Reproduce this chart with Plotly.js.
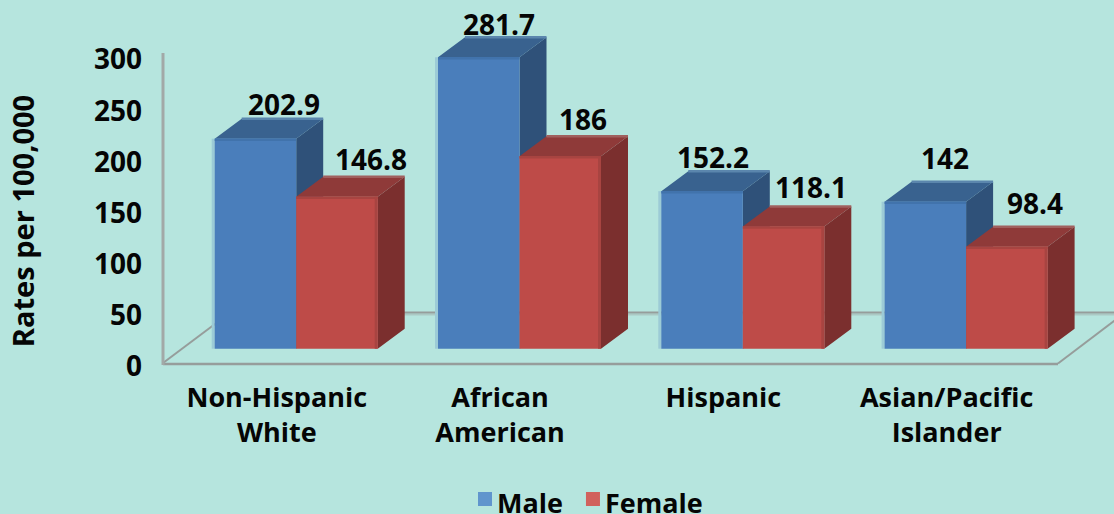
<!DOCTYPE html>
<html>
<head>
<meta charset="utf-8">
<script src="https://cdn.plot.ly/plotly-3.0.1.min.js"></script>
<style>html,body{margin:0;padding:0;background:#b6e5de;overflow:hidden}</style>
</head>
<body>
<div id="chart" style="width:1114px;height:514px"></div>
<script>
const categories = ['Non-Hispanic<br>White', 'African<br>American', 'Hispanic', 'Asian/Pacific<br>Islander'];
const maleValues = [202.9, 281.7, 152.2, 142];
const femaleValues = [146.8, 186, 118.1, 98.4];
const yTicks = [0, 50, 100, 150, 200, 250, 300];

const W = 1114, H = 514;
const BG = '#b6e5de', FONT = '"Open Sans", sans-serif', INK = '#050505';
const GROUP_PX = 223.3, FIRST_PX = 296.2;
const BAR_PX = 81.5, DEPTH_X_PX = 27, DEPTH_Y_PX = 20;
const BAR_SCALE = 1.035, AXIS_SCALE = 1.023;
const BASE_PY = 348.7, AXIS_ZERO_PY = 366.5, X_AXIS_PY = 364, DOM_TOP_PY = 0, DOM_BOT_PY = 442;

const groups = categories.map((_, i) => i);
const bw = BAR_PX / GROUP_PX, ddx = DEPTH_X_PX / GROUP_PX, ddy = DEPTH_Y_PX / BAR_SCALE;
const pxX = 1 / GROUP_PX, pxY = 1 / BAR_SCALE;
const valueRange = [(BASE_PY - DOM_BOT_PY) / BAR_SCALE, (BASE_PY - DOM_TOP_PY) / BAR_SCALE];
const axisRange = [(AXIS_ZERO_PY - DOM_BOT_PY) / AXIS_SCALE, (AXIS_ZERO_PY - DOM_TOP_PY) / AXIS_SCALE];
const domain = [1 - DOM_BOT_PY / H, 1 - DOM_TOP_PY / H];

function face(values, side, kind) {
  const xs = [], ys = [];
  values.forEach((v, i) => {
    const l = i + (side < 0 ? -bw : 0), r = l + bw;
    const pts = kind === 'top'
      ? [[l, v], [r, v], [r + ddx, v + ddy], [l + ddx, v + ddy], [l, v]]
      : [[r, 0], [r + ddx, ddy], [r + ddx, v + ddy], [r, v], [r, 0]];
    pts.forEach(p => { xs.push(p[0]); ys.push(p[1]); });
    xs.push(null); ys.push(null);
  });
  return { xs, ys };
}
function faceTrace(values, side, kind, color) {
  const f = face(values, side, kind);
  return { type: 'scatter', mode: 'lines', x: f.xs, y: f.ys, yaxis: 'y2', fill: 'toself', fillcolor: color,
    line: { width: 0, color: color }, hoverinfo: 'skip', showlegend: false, cliponaxis: false };
}
function edge(values, side, color, width, axis, where) {
  const xs = [], ys = [];
  values.forEach((v, i) => {
    const l = i + (side < 0 ? -bw : 0), r = l + bw;
    if (where === 'back') { xs.push(l + ddx, r + ddx, null); ys.push(v + ddy, v + ddy, null); }
    if (where === 'frontTop') { xs.push(l, r, null); ys.push(v - pxY, v - pxY, null); }
    if (where === 'left') { xs.push(l - 1.5 * pxX, l - 1.5 * pxX, null); ys.push(0, v, null); }
    if (where === 'right') { xs.push(r - 1.5 * pxX, r - 1.5 * pxX, null); ys.push(0, v, null); }
  });
  return { type: 'scatter', mode: 'lines', x: xs, y: ys, yaxis: axis, line: { width, color },
    hoverinfo: 'skip', showlegend: false, cliponaxis: false };
}
function swatch(name, color) {
  return { type: 'scatter', mode: 'markers', name: name, x: [null], y: [null], yaxis: 'y',
    marker: { symbol: 'square', size: 14, color: color }, hoverinfo: 'skip' };
}

const traces = [
  swatch('Male', '#6095cd'),
  swatch('Female', '#d1625d'),
  faceTrace(maleValues, -1, 'side', '#2f5179'),
  faceTrace(maleValues, -1, 'top', '#39628f'),
  edge(maleValues, -1, '#5b86ad', 2.5, 'y2', 'back'),
  faceTrace(femaleValues, 1, 'side', '#7b2f2e'),
  faceTrace(femaleValues, 1, 'top', '#8f3a39'),
  edge(femaleValues, 1, '#a0605e', 2.5, 'y2', 'back'),
  edge(maleValues, -1, '#9ccbd6', 3, 'y2', 'left'),
  { type: 'bar', name: 'Male', x: groups, y: maleValues, yaxis: 'y3', offset: -bw, width: bw, cliponaxis: false,
    marker: { color: '#4a7ebb' }, showlegend: false, hoverinfo: 'skip' },
  { type: 'bar', name: 'Female', x: groups, y: femaleValues, yaxis: 'y3', offset: 0, width: bw, cliponaxis: false,
    marker: { color: '#be4b48' }, showlegend: false, hoverinfo: 'skip' },
  edge(maleValues, -1, '#4173ac', 2.5, 'y3', 'frontTop'),
  edge(femaleValues, 1, '#a84441', 2.5, 'y3', 'frontTop'),
  edge(femaleValues, 1, '#a84441', 3, 'y3', 'right')
];

const labelShiftM = [[-12, 35], [-21, 33], [-30, 34], [-21, 44]];
const labelShiftF = [[34, 38], [23, 37], [27, 39], [28, 44]];
const mk = (x, v, s) => ({ x, y: v, xref: 'x', yref: 'y3', text: String(v), showarrow: false, xshift: s[0], yshift: s[1],
  font: { family: FONT, size: 28, color: INK, weight: 700 } });
const annotations = [];
groups.forEach(i => {
  annotations.push(mk(i, maleValues[i], labelShiftM[i]));
  annotations.push(mk(i + bw / 2, femaleValues[i], labelShiftF[i]));
});

const seg = (x0, y0, x1, y1, color, width) => ({ type: 'line', xref: 'paper', yref: 'paper', layer: 'below',
  x0: x0 / W, x1: x1 / W, y0: 1 - y0 / H, y1: 1 - y1 / H, line: { color, width } });
const G = '#969d9b';
const shapes = [
  seg(230, 314.5, 1114, 314.5, '#abc9c4', 2),
  seg(230, 312.5, 1114, 312.5, G, 2),
  seg(163, 363, 231, 312, G, 2),
  seg(1058, 363.5, 1122, 315, G, 2),
  seg(163, 364, 1058, 364, G, 2.5),
  seg(163, 53, 163, 365, '#a2a9a7', 3)
];

const layout = {
  width: W, height: H, autosize: false,
  margin: { l: 0, r: 0, t: 0, b: 0, pad: 0, autoexpand: false },
  paper_bgcolor: BG, plot_bgcolor: BG,
  barmode: 'overlay', showlegend: true,
  font: { family: FONT, color: INK },
  xaxis: {
    range: [-FIRST_PX / GROUP_PX, (W - FIRST_PX) / GROUP_PX],
    anchor: 'free', position: 1 - X_AXIS_PY / H,
    tickmode: 'array', tickvals: groups.map(i => i - 0.087), ticktext: categories,
    showgrid: false, zeroline: false, showline: false, ticks: '', ticklabelstandoff: 15,
    tickangle: 0,
    tickfont: { family: FONT, size: 27, color: INK, weight: 700 }
  },
  yaxis: {
    domain,
    range: axisRange, anchor: 'free', position: 163 / W,
    tickmode: 'array', tickvals: yTicks, ticktext: yTicks.map(String),
    showgrid: false, zeroline: false, showline: false, ticks: '', ticklabelstandoff: 21,
    tickfont: { family: FONT, size: 28, color: INK, weight: 700 },
    title: { text: 'Rates per 100,000', standoff: 49, font: { family: FONT, size: 29, color: INK, weight: 700 } }
  },
  yaxis2: { overlaying: 'y', domain, range: valueRange, visible: false, anchor: 'x' },
  yaxis3: { overlaying: 'y', domain, range: valueRange, visible: false, anchor: 'x' },
  legend: { orientation: 'h', x: 464 / W, xanchor: 'left', y: 35.5 / H, yanchor: 'top',
    font: { family: FONT, size: 27, color: INK, weight: 700 }, bgcolor: 'rgba(0,0,0,0)', itemwidth: 30 },
  annotations, shapes
};
Plotly.newPlot('chart', traces, layout, { displayModeBar: false, staticPlot: true }).then(() => {
  // The reference sets its legend text closer to, and lower than, its swatches.
  document.querySelectorAll('.legendtext').forEach(t => t.setAttribute('x', parseFloat(t.getAttribute('x')) - 7));
  document.querySelectorAll('.legendpoints').forEach(g => g.setAttribute('transform', 'translate(1,-3.5)'));
  const second = document.querySelectorAll('.legend .traces')[1];
  if (second) {
    const m = /translate\(([-\d.]+)[ ,]+([-\d.]+)\)/.exec(second.getAttribute('transform') || '');
    if (m) second.setAttribute('transform', 'translate(' + (parseFloat(m[1]) - 3) + ',' + m[2] + ')');
  }
});
</script>
</body>
</html>
